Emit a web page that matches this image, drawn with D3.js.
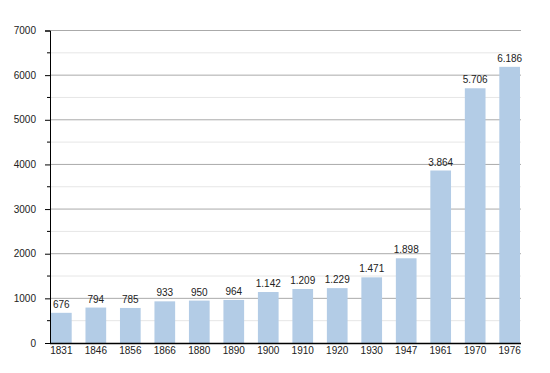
<!DOCTYPE html>
<html>
<head>
<meta charset="utf-8">
<script src="https://cdn.jsdelivr.net/npm/d3@7"></script>
<style>
  body { margin: 0; background: #fff; }
  text { font-family: "Liberation Sans", Arial, sans-serif; font-size: 10px; fill: #222; }
</style>
</head>
<body>
<svg id="chart" width="550" height="373"></svg>
<script>
'use strict'

// census years and population
const years = ['1831', '1846', '1856', '1866', '1880', '1890', '1900', '1910', '1920', '1930', '1947', '1961', '1970', '1976']
const population = [676, 794, 785, 933, 950, 964, 1142, 1209, 1229, 1471, 1898, 3864, 5706, 6186]
const yTicks = [0, 1000, 2000, 3000, 4000, 5000, 6000, 7000]
const yMinor = [500, 1500, 2500, 3500, 4500, 5500, 6500]

const plotLeft = 50, plotRight = 521, plotTop = 30.5, plotBottom = 343

const svg = d3.select('#chart')

const x = d3.scaleBand().domain(years).range([51, 520]).paddingInner(0.4).paddingOuter(0)
const y = d3.scaleLinear().domain([0, 7000]).range([plotBottom, plotTop])

// number format with dot as thousands separator
const fmt = d3.formatLocale({decimal: ',', thousands: '.', grouping: [3], currency: ['', '']}).format(',d')

// minor grid lines
svg.append('g').selectAll('line')
  .data(yMinor)
  .enter().append('line')
    .attr('x1', plotLeft).attr('x2', plotRight)
    .attr('y1', (d) => y(d)).attr('y2', (d) => y(d))
    .attr('stroke', '#e6e6e6')

// major grid lines
svg.append('g').selectAll('line')
  .data(yTicks.slice(1))
  .enter().append('line')
    .attr('x1', plotLeft).attr('x2', plotRight)
    .attr('y1', (d) => y(d)).attr('y2', (d) => y(d))
    .attr('stroke', '#aaa')

// bars
svg.append('g').selectAll('rect')
  .data(population)
  .enter().append('rect')
    .attr('x', (d, i) => x(years[i]))
    .attr('y', (d) => y(d))
    .attr('width', x.bandwidth())
    .attr('height', (d) => plotBottom - y(d))
    .attr('fill', '#b3cce6')

// value labels
svg.append('g').selectAll('text')
  .data(population)
  .enter().append('text')
    .attr('x', (d, i) => x(years[i]) + x.bandwidth() / 2)
    .attr('y', (d) => y(d) - 5)
    .attr('text-anchor', 'middle')
    .text((d) => fmt(d))

// y axis
const yAxis = svg.append('g')
  .attr('transform', 'translate(' + plotLeft + ',0)')
  .call(d3.axisLeft(y).tickValues(yTicks).tickSize(5).tickPadding(9).tickFormat(d3.format('d')))
yAxis.select('.domain').attr('stroke', '#000')
yAxis.selectAll('.tick line').attr('stroke', '#000')
yAxis.selectAll('text').style('font-size', '10px').attr('fill', '#222')
// minor ticks
yAxis.append('g').selectAll('line')
  .data(yMinor)
  .enter().append('line')
    .attr('x1', -3).attr('x2', 0)
    .attr('y1', (d) => y(d)).attr('y2', (d) => y(d))
    .attr('stroke', '#000')

// x axis
const xAxis = svg.append('g')
  .attr('transform', 'translate(0,' + plotBottom + ')')
  .call(d3.axisBottom(x).tickSize(0).tickPadding(4))
xAxis.select('.domain').attr('d', 'M' + plotLeft + ',0.5H' + plotRight).attr('stroke', '#000').attr('stroke-width', 1.5)
xAxis.selectAll('text').style('font-size', '10px').attr('fill', '#222')
</script>
</body>
</html>
